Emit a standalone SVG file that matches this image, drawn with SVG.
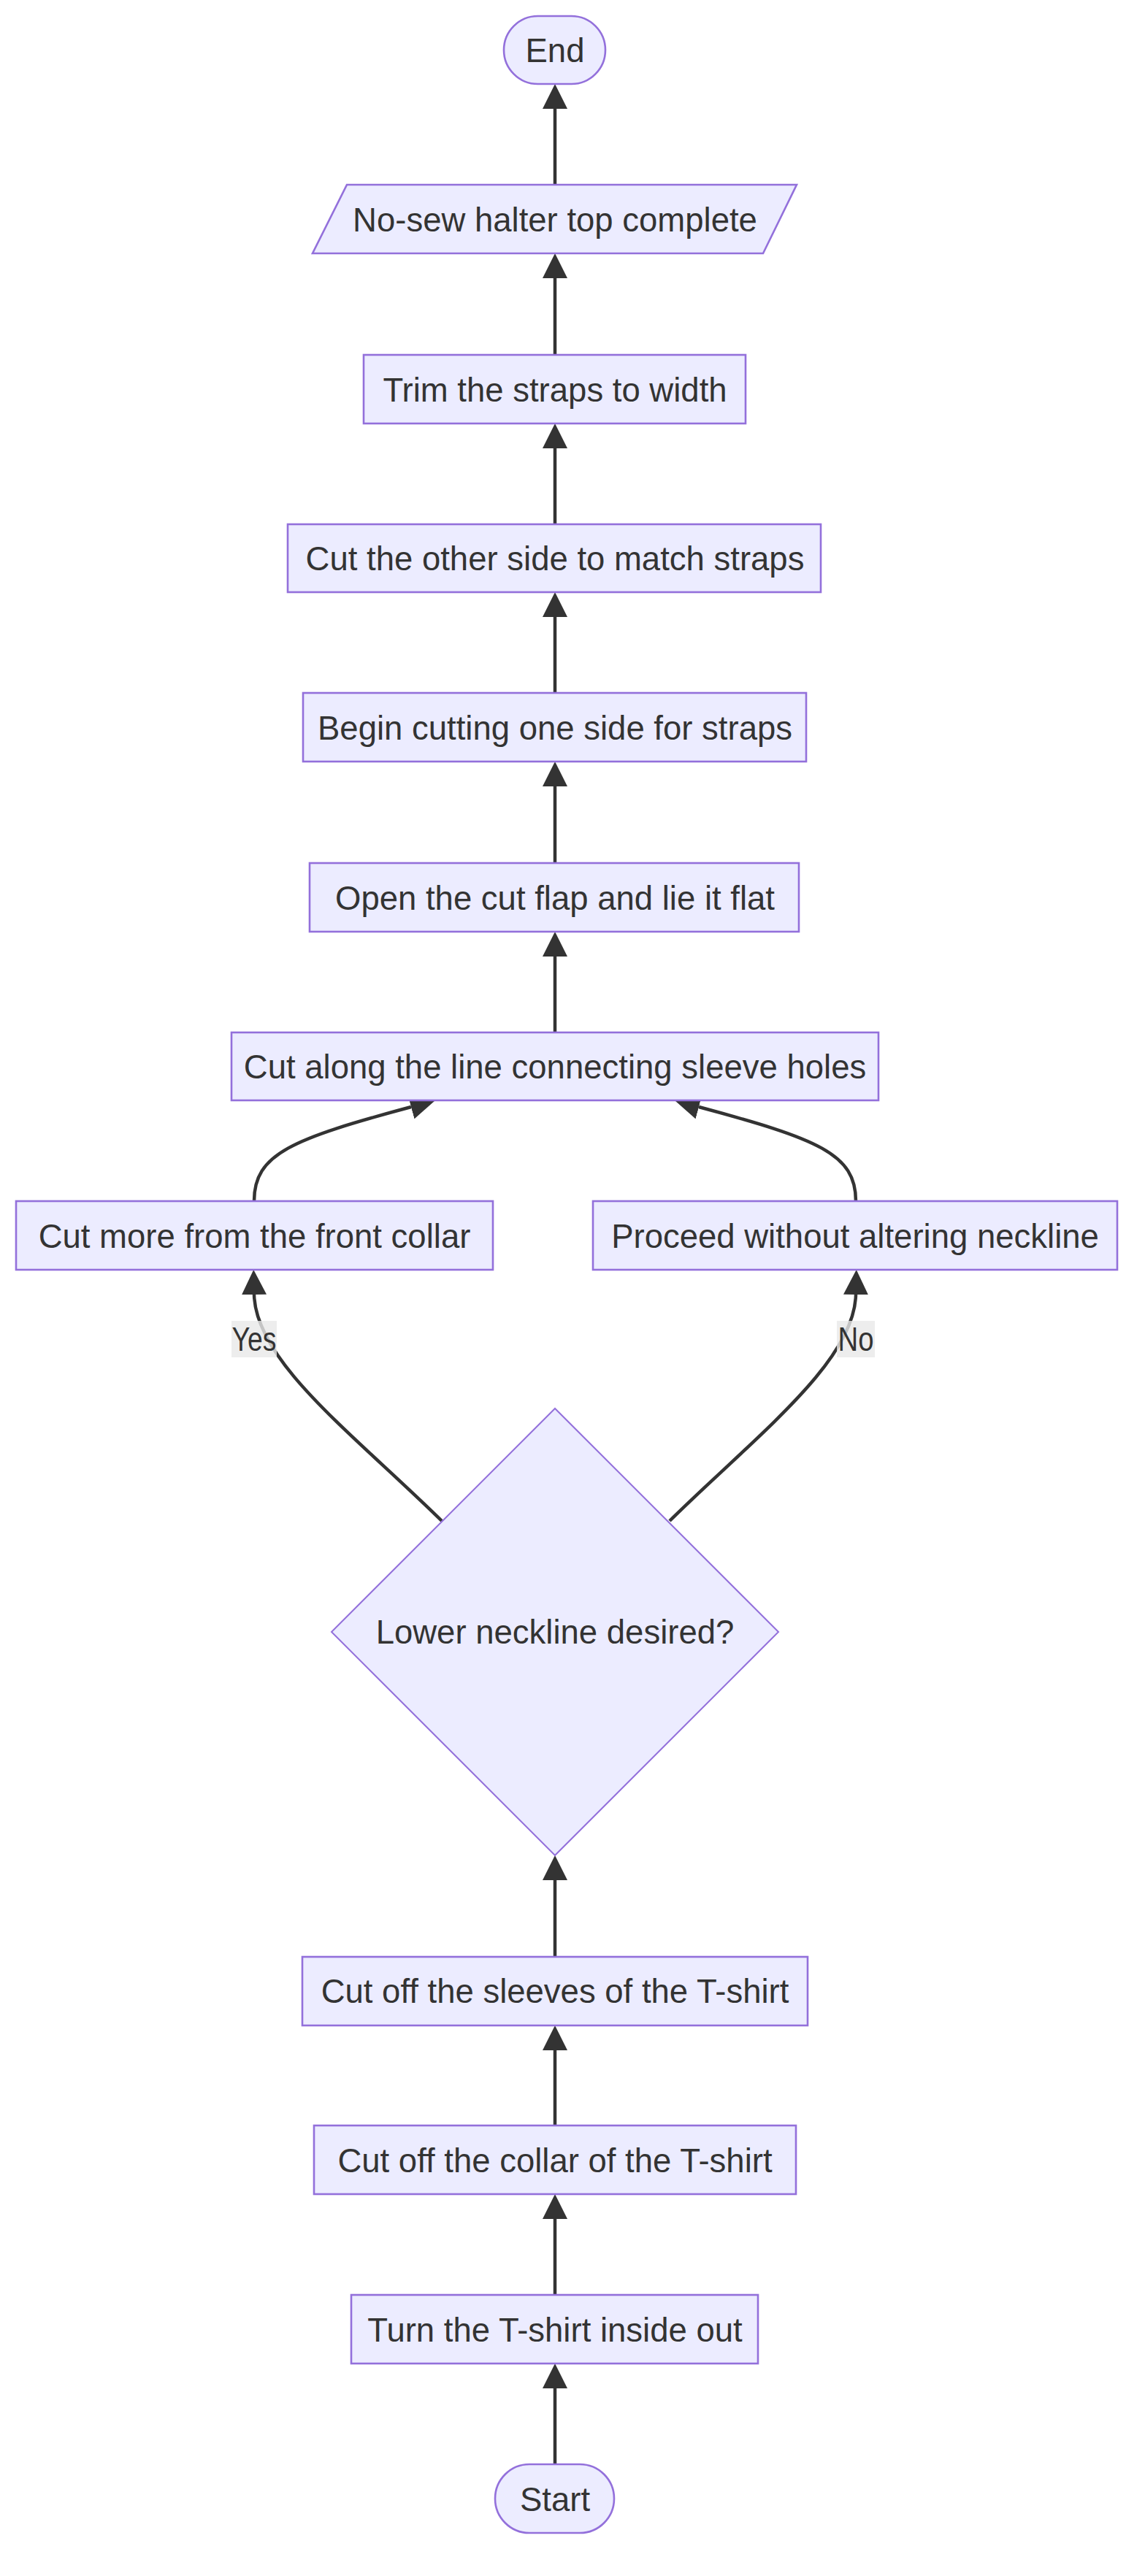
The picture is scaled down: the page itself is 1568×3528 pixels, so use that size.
<svg xmlns="http://www.w3.org/2000/svg" width="1568" height="3528" viewBox="0 0 1568 3528">
<style>
.node{fill:#ECECFF;stroke:#9370DB;stroke-width:2.6}
.dia{fill:#ECECFF;stroke:#9370DB;stroke-width:2}
.t{font-family:"Liberation Sans",Arial,sans-serif;font-size:45.5px;fill:#333333;text-anchor:middle}
.e{fill:none;stroke:#333333;stroke-width:4.5;marker-end:url(#arr)}
.lb{fill:#e8e8e8;fill-opacity:0.8}
</style>
<defs>
<marker id="arr" markerUnits="userSpaceOnUse" markerWidth="34" markerHeight="34" viewBox="0 0 10 10" refX="0" refY="5" orient="auto">
<path d="M0,0 L10,5 L0,10 z" fill="#333333"/>
</marker>
</defs>
<rect width="1568" height="3528" fill="#ffffff"/>
<g id="edges">
<path class="e" d="M760,3375 V3271"/>
<path class="e" d="M760,3143 V3039"/>
<path class="e" d="M760,2911 V2808"/>
<path class="e" d="M760,2680 V2575"/>
<path class="e" d="M605,2083 C485,1965 350,1865 348,1773"/>
<path class="e" d="M917,2083 C1037,1965 1170,1865 1172,1773"/>
<path class="e" d="M348,1645 C348,1580 400,1560 563,1516"/>
<path class="e" d="M1172,1645 C1172,1580 1120,1560 957,1516"/>
<path class="e" d="M760,1414 V1310"/>
<path class="e" d="M760,1182 V1077"/>
<path class="e" d="M760,949 V845"/>
<path class="e" d="M760,718 V614"/>
<path class="e" d="M760,486 V381"/>
<path class="e" d="M760,253 V149"/>
</g>
<g id="edge-labels">
<g id="label-yes"><rect class="lb" x="317" y="1809" width="62" height="50"/><text class="t" x="348" y="1850" textLength="61" lengthAdjust="spacingAndGlyphs">Yes</text></g>
<g id="label-no"><rect class="lb" x="1146" y="1809" width="52" height="50"/><text class="t" x="1172" y="1850" textLength="49" lengthAdjust="spacingAndGlyphs">No</text></g>
</g>
<g id="n-end"><rect class="node" x="690" y="22" width="139" height="93" rx="46.5" ry="46.5"/><text class="t" x="760" y="85">End</text></g>
<g id="n-complete"><polygon class="node" points="475,253 1091,253 1045,347 428,347"/><text class="t" x="760" y="316.5">No-sew halter top complete</text></g>
<g id="n-trim"><rect class="node" x="498" y="486" width="523" height="94"/><text class="t" x="760" y="549.5">Trim the straps to width</text></g>
<g id="n-other"><rect class="node" x="394" y="718" width="730" height="93"/><text class="t" x="760" y="781">Cut the other side to match straps</text></g>
<g id="n-begin"><rect class="node" x="415" y="949" width="689" height="94"/><text class="t" x="760" y="1012.5">Begin cutting one side for straps</text></g>
<g id="n-open"><rect class="node" x="424" y="1182" width="670" height="94"/><text class="t" x="760" y="1245.5">Open the cut flap and lie it flat</text></g>
<g id="n-along"><rect class="node" x="317" y="1414" width="886" height="93"/><text class="t" x="760" y="1477">Cut along the line connecting sleeve holes</text></g>
<g id="n-more"><rect class="node" x="22" y="1645" width="653" height="94"/><text class="t" x="348.5" y="1708.5">Cut more from the front collar</text></g>
<g id="n-proceed"><rect class="node" x="812" y="1645" width="718" height="94"/><text class="t" x="1171" y="1708.5">Proceed without altering neckline</text></g>
<g id="n-decision"><polygon class="dia" points="760,1929 1066,2235 760,2541 454,2235"/><text class="t" x="760" y="2251">Lower neckline desired?</text></g>
<g id="n-sleeves"><rect class="node" x="414" y="2680" width="692" height="94"/><text class="t" x="760" y="2743">Cut off the sleeves of the T-shirt</text></g>
<g id="n-collar"><rect class="node" x="430" y="2911" width="660" height="94"/><text class="t" x="760" y="2974.5">Cut off the collar of the T-shirt</text></g>
<g id="n-turn"><rect class="node" x="481" y="3143" width="557" height="94"/><text class="t" x="760" y="3206.5">Turn the T-shirt inside out</text></g>
<g id="n-start"><rect class="node" x="678" y="3375" width="163" height="94" rx="47" ry="47"/><text class="t" x="760" y="3438.5">Start</text></g>
</svg>
